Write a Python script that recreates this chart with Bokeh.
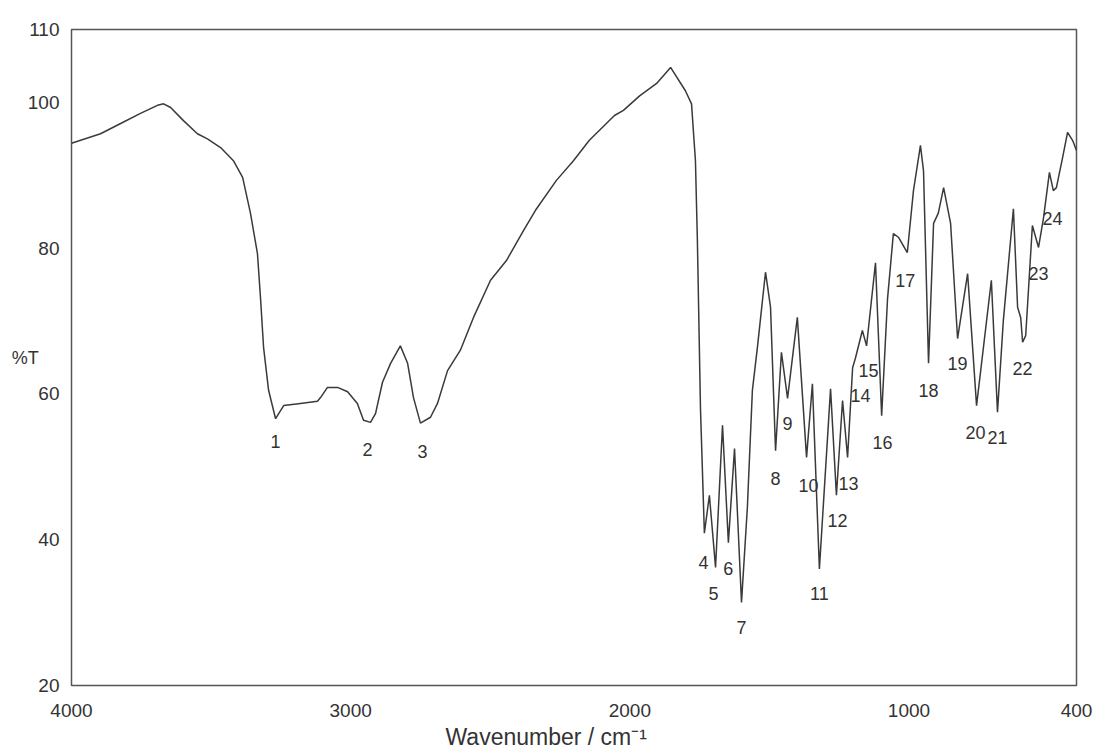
from bokeh.plotting import figure
from bokeh.models import Range1d, FixedTicker, ColumnDataSource, Title
from bokeh.core.properties import value
from bokeh.embed import file_html
from bokeh.resources import INLINE

# ---- data ----
wavenumber = [4000, 3896, 3824, 3753, 3692, 3670, 3645, 3599, 3549, 3513, 3466, 3420,
              3387, 3359, 3334, 3323, 3312, 3294, 3269, 3240, 3180, 3119, 3108, 3083,
              3047, 3011, 2976, 2954, 2929, 2911, 2886, 2857, 2822, 2796, 2775, 2750,
              2714, 2689, 2653, 2607, 2560, 2499, 2442, 2381, 2338, 2263, 2202, 2145,
              2055, 2023, 1965, 1904, 1854, 1801, 1779, 1765, 1758, 1747, 1733, 1715,
              1693, 1668, 1647, 1625, 1600, 1579, 1561, 1543, 1514, 1496, 1478, 1457,
              1435, 1400, 1367, 1346, 1321, 1281, 1260, 1238, 1220, 1202, 1192, 1167,
              1152, 1120, 1098, 1077, 1056, 1038, 1006, 984, 959, 948, 930, 912,
              895, 876, 851, 826, 790, 758, 705, 683, 662, 626, 611, 600,
              593, 582, 558, 536, 518, 497, 483, 472, 450, 432, 414, 400]
transmittance = [94.4, 95.7, 97.1, 98.5, 99.6, 99.8, 99.3, 97.5, 95.7, 95.0, 93.8, 92.0,
                 89.7, 84.8, 79.3, 73.2, 66.4, 60.5, 56.6, 58.4, 58.7, 59.0, 59.5, 60.9,
                 60.9, 60.3, 58.7, 56.4, 56.1, 57.3, 61.6, 64.2, 66.6, 64.2, 59.5, 56.0,
                 56.8, 58.7, 63.2, 66.0, 70.5, 75.6, 78.3, 82.4, 85.2, 89.3, 92.0, 94.8,
                 98.2, 98.9, 100.9, 102.6, 104.8, 101.6, 99.8, 92.0, 81.0, 58.1, 40.9, 46.1,
                 36.2, 55.7, 39.6, 52.5, 31.4, 44.4, 60.5, 66.4, 76.7, 71.9, 52.2, 65.7,
                 59.4, 70.5, 51.3, 61.4, 36.0, 60.7, 46.1, 59.1, 51.3, 63.6, 64.9, 68.7,
                 66.6, 78.0, 57.0, 73.0, 82.0, 81.5, 79.4, 87.9, 94.1, 90.6, 64.2, 83.4,
                 84.8, 88.3, 83.4, 67.6, 76.5, 58.4, 75.6, 57.5, 70.1, 85.4, 71.9, 70.5,
                 67.1, 68.0, 83.1, 80.1, 84.2, 90.4, 87.9, 88.3, 92.4, 95.9, 94.8, 93.4]

peak_labels = [str(i) for i in range(1, 25)]
peak_label_x = [3269, 2940, 2743, 1736, 1700, 1647, 1600, 1478, 1435, 1360, 1321, 1256,
                1217, 1174, 1145, 1095, 1013, 930, 826, 762, 683, 593, 536, 486]
peak_label_y = [53.5, 52.4, 52.1, 36.9, 32.6, 36.0, 28.0, 48.4, 55.9, 47.4, 32.6, 42.6,
                47.7, 59.8, 63.2, 53.3, 75.6, 60.5, 64.2, 54.7, 54.0, 63.5, 76.5, 84.1]

x_ticks = [4000, 3000, 2000, 1000, 400]
y_ticks = [20, 40, 60, 80, 100, 110]

FONT = "Liberation Sans"
TEXT = "#333333"
LINE = "#3a3a3a"

p = figure(frame_width=1005, frame_height=656,
           min_border_left=71, min_border_right=20, min_border_top=29, min_border_bottom=20,
           x_range=Range1d(4000, 400), y_range=Range1d(20, 110),
           output_backend="svg", toolbar_location=None, background_fill_color="white")

p.line(wavenumber, transmittance, line_color=LINE, line_width=1.5)

src = ColumnDataSource(dict(x=peak_label_x, y=peak_label_y, t=peak_labels))
p.text(x="x", y="y", text="t", source=src, text_align="center", text_baseline="middle",
       text_font=value(FONT), text_font_size="18px", text_color=TEXT)

p.grid.visible = False
p.outline_line_color = "#555555"
p.outline_line_width = 1.5

p.xaxis.ticker = FixedTicker(ticks=x_ticks)
p.yaxis.ticker = FixedTicker(ticks=y_ticks)
for ax in (p.xaxis[0], p.yaxis[0]):
    ax.axis_line_color = None
    ax.major_tick_line_color = None
    ax.minor_tick_line_color = None
    ax.major_label_text_font = FONT
    ax.major_label_text_font_size = "19px"
    ax.major_label_text_color = TEXT
    ax.axis_label_text_font = FONT
    ax.axis_label_text_font_style = "normal"
    ax.axis_label_text_color = TEXT

p.xaxis.major_label_standoff = 12
p.yaxis.major_label_standoff = 6

p.yaxis.axis_label = "%T"
p.yaxis.axis_label_orientation = "horizontal"
p.yaxis.axis_label_text_font_size = "18px"
p.yaxis.axis_label_standoff = -14

p.add_layout(Title(text="Wavenumber / cm\u207b\u00b9", align="left", offset=374,
                   text_font=FONT, text_font_size="23px", text_font_style="normal",
                   text_color=TEXT, standoff=5), "below")

open("out.html", "w").write(file_html(p, INLINE))
